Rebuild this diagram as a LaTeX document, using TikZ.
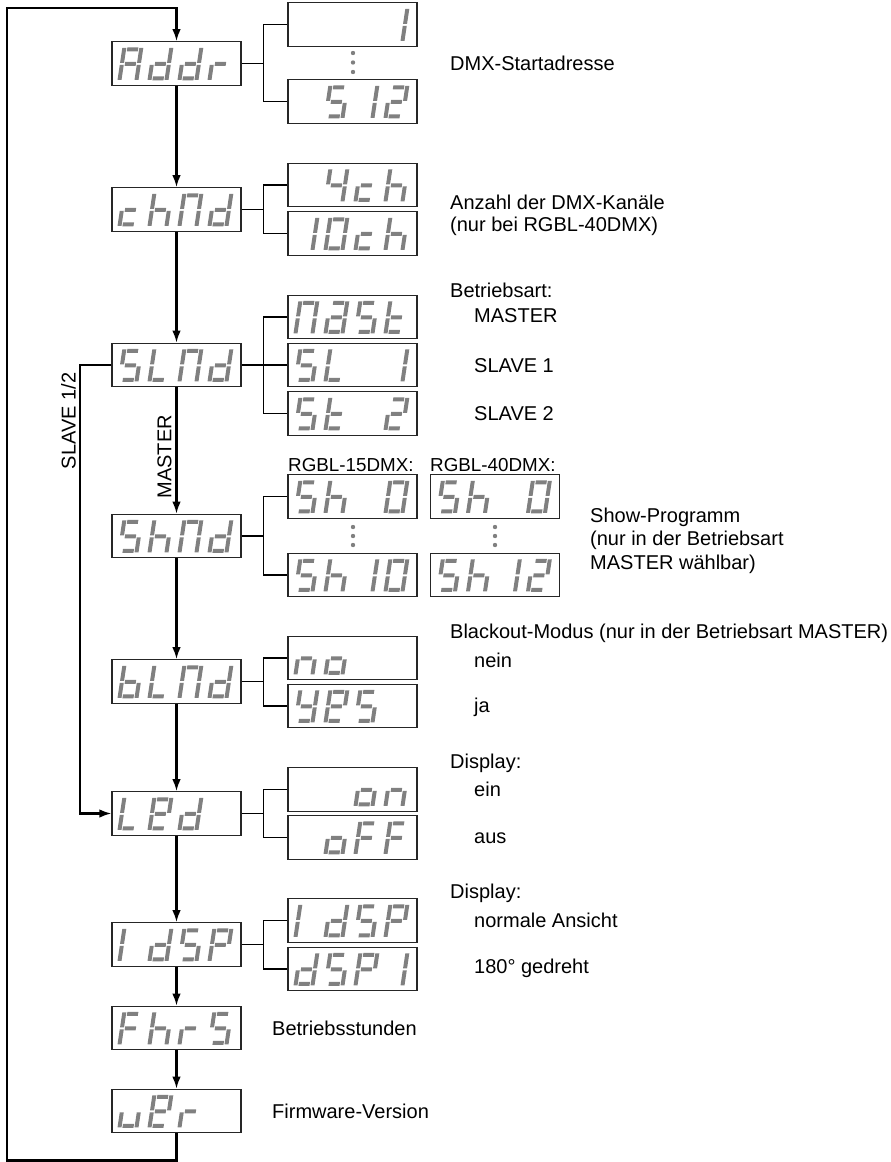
\documentclass[tikz,border=0pt]{standalone}
\usepackage{fontspec}
\setmainfont{Liberation Sans}
\usetikzlibrary{calc,arrows.meta}

\tikzset{
  disp/.style={draw=black!85, line width=1.1pt, minimum width=129pt, minimum height=43.5pt, inner sep=0pt},
  lbl/.style={anchor=west, inner sep=0pt, font=\fontsize{20}{22}\selectfont},
  lblsm/.style={anchor=west, inner sep=0pt, font=\fontsize{18.8}{22}\selectfont},
  conn/.style={line width=1.8pt},
  flow/.style={line width=2.1pt, -{Latex[length=12pt,width=8.5pt]}},
  seg/.style={fill=black!50},
  dotc/.style={fill=black!50},
}

% segments (unslanted cell 21 x 33)
\def\sga{\fill[seg] (5,29) rectangle (16,33);}
\def\sgg{\fill[seg] (5,14.5) rectangle (16,18.5);}
\def\sgd{\fill[seg] (5,0) rectangle (16,4);}
\def\sgf{\fill[seg] (0,17.5) rectangle (4,32.5);}
\def\sgb{\fill[seg] (17,17.5) rectangle (21,32.5);}
\def\sge{\fill[seg] (0,0.5) rectangle (4,15.5);}
\def\sgc{\fill[seg] (17,0.5) rectangle (21,15.5);}

% characters
\def\zA{a,b,c,e,f,g}
\def\zd{b,c,d,e,g}
\def\zr{e,g}
\def\zc{d,e,g}
\def\zh{c,e,f,g}
\def\zN{a,b,c,e,f}
\def\zfour{b,c,f,g}
\def\zone{b,c}
\def\zonel{e,f}
\def\zzero{a,b,c,d,e,f}
\def\zS{a,c,d,f,g}
\def\ztwo{a,b,d,e,g}
\def\zL{d,e,f}
\def\zt{d,e,f,g}
\def\zb{c,d,e,f,g}
\def\zn{c,e,g}
\def\zo{c,d,e,g}
\def\zy{b,c,d,f,g}
\def\zE{a,b,d,e,f,g}
\def\zF{a,e,f,g}
\def\zP{a,b,e,f,g}
\def\zu{c,d,e}
\def\za{a,b,c,d,e,g}

\newcommand\dg[3]{%
  \begin{scope}[shift={(#1.south west)}, xshift={6+30*(#2-1)}, yshift=5.5, xslant=0.15]
    \foreach \s in #3 {\csname sg\s\endcsname}
  \end{scope}}

\begin{document}
\begin{tikzpicture}[x=1pt,y=1pt]
\useasboundingbox (0,0) rectangle (891,-1162);

% main column
\node[disp] (addr) at (176.5,-63.5) {};
\node[disp] (chnd) at (176.5,-209.5) {};
\node[disp] (slnd) at (176.5,-365) {};
\node[disp] (shnd) at (176.5,-536) {};
\node[disp] (blnd) at (176.5,-681.5) {};
\node[disp] (led)  at (176.5,-813.5) {};
\node[disp] (dsp)  at (176.5,-944.5) {};
\node[disp] (fhrs) at (176.5,-1028) {};
\node[disp] (uer)  at (176.5,-1111) {};

% sub boxes
\node[disp] (a1)    at (352.5,-24.5) {};
\node[disp] (a512)  at (352.5,-101.5) {};
\node[disp] (c4)    at (352.5,-185) {};
\node[disp] (c10)   at (352.5,-233.5) {};
\node[disp] (smast) at (352.5,-317) {};
\node[disp] (ssl1)  at (352.5,-365) {};
\node[disp] (sst2)  at (352.5,-413.5) {};
\node[disp] (sh0a)  at (352.5,-496.5) {};
\node[disp] (sh10)  at (352.5,-575) {};
\node[disp] (sh0b)  at (495,-496.5) {};
\node[disp] (sh12)  at (495,-575) {};
\node[disp] (bno)   at (352.5,-658) {};
\node[disp] (byes)  at (352.5,-706) {};
\node[disp] (lon)   at (352.5,-789.5) {};
\node[disp] (loff)  at (352.5,-837.5) {};
\node[disp] (d1)    at (352.5,-920.5) {};
\node[disp] (d2)    at (352.5,-969) {};

% display contents
\dg{addr}{1}{\zA}\dg{addr}{2}{\zd}\dg{addr}{3}{\zd}\dg{addr}{4}{\zr}
\dg{a1}{4}{\zone}
\dg{a512}{2}{\zS}\dg{a512}{3}{\zone}\dg{a512}{4}{\ztwo}
\dg{chnd}{1}{\zc}\dg{chnd}{2}{\zh}\dg{chnd}{3}{\zN}\dg{chnd}{4}{\zd}
\dg{c4}{2}{\zfour}\dg{c4}{3}{\zc}\dg{c4}{4}{\zh}
\dg{c10}{1}{\zone}\dg{c10}{2}{\zzero}\dg{c10}{3}{\zc}\dg{c10}{4}{\zh}
\dg{slnd}{1}{\zS}\dg{slnd}{2}{\zL}\dg{slnd}{3}{\zN}\dg{slnd}{4}{\zd}
\dg{smast}{1}{\zN}\dg{smast}{2}{\za}\dg{smast}{3}{\zS}\dg{smast}{4}{\zt}
\dg{ssl1}{1}{\zS}\dg{ssl1}{2}{\zL}\dg{ssl1}{4}{\zone}
\dg{sst2}{1}{\zS}\dg{sst2}{2}{\zt}\dg{sst2}{4}{\ztwo}
\dg{shnd}{1}{\zS}\dg{shnd}{2}{\zh}\dg{shnd}{3}{\zN}\dg{shnd}{4}{\zd}
\dg{sh0a}{1}{\zS}\dg{sh0a}{2}{\zh}\dg{sh0a}{4}{\zzero}
\dg{sh0b}{1}{\zS}\dg{sh0b}{2}{\zh}\dg{sh0b}{4}{\zzero}
\dg{sh10}{1}{\zS}\dg{sh10}{2}{\zh}\dg{sh10}{3}{\zone}\dg{sh10}{4}{\zzero}
\dg{sh12}{1}{\zS}\dg{sh12}{2}{\zh}\dg{sh12}{3}{\zone}\dg{sh12}{4}{\ztwo}
\dg{blnd}{1}{\zb}\dg{blnd}{2}{\zL}\dg{blnd}{3}{\zN}\dg{blnd}{4}{\zd}
\dg{bno}{1}{\zn}\dg{bno}{2}{\zo}
\dg{byes}{1}{\zy}\dg{byes}{2}{\zE}\dg{byes}{3}{\zS}
\dg{led}{1}{\zL}\dg{led}{2}{\zE}\dg{led}{3}{\zd}
\dg{lon}{3}{\zo}\dg{lon}{4}{\zn}
\dg{loff}{2}{\zo}\dg{loff}{3}{\zF}\dg{loff}{4}{\zF}
\dg{dsp}{1}{\zonel}\dg{dsp}{2}{\zd}\dg{dsp}{3}{\zS}\dg{dsp}{4}{\zP}
\dg{d1}{1}{\zonel}\dg{d1}{2}{\zd}\dg{d1}{3}{\zS}\dg{d1}{4}{\zP}
\dg{d2}{1}{\zd}\dg{d2}{2}{\zS}\dg{d2}{3}{\zP}\dg{d2}{4}{\zone}
\dg{fhrs}{1}{\zF}\dg{fhrs}{2}{\zh}\dg{fhrs}{3}{\zr}\dg{fhrs}{4}{\zS}
\dg{uer}{1}{\zu}\dg{uer}{2}{\zE}\dg{uer}{3}{\zr}

% dots
\foreach \yy in {-53,-62.5,-72} {\fill[dotc] (353,\yy) circle (2.2);}
\foreach \yy in {-527,-536,-545} {\fill[dotc] (353,\yy) circle (2.2); \fill[dotc] (495,\yy) circle (2.2);}

% brackets
\foreach \m/\t/\b in {addr/a1/a512, chnd/c4/c10, slnd/smast/sst2, shnd/sh0a/sh10, blnd/bno/byes, led/lon/loff, dsp/d1/d2} {
  \draw[conn] (\m.east) -- ($(\m.east -| \t.west)+(-24,0)$);
  \draw[conn] (\t.west) -- ++(-24,0) |- (\b.west);
}
\draw[conn] (ssl1.west) -- ++(-24,0);

% flow
\draw[flow] (addr) -- (chnd);
\draw[flow] (chnd) -- (slnd);
\draw[flow] (slnd) -- node[pos=0.55, rotate=90, font=\fontsize{20}{22}\selectfont, anchor=south, inner sep=4pt] (lmaster) {MASTER} (shnd);
\draw[flow] (shnd) -- (blnd);
\draw[flow] (blnd) -- (led);
\draw[flow] (led) -- (dsp);
\draw[flow] (dsp) -- (fhrs);
\draw[flow] (fhrs) -- (uer);
\coordinate (sl) at (80,-365);
\draw[flow] (slnd.west) -- (sl) |- (led.west);
\node[rotate=90, font=\fontsize{20}{22}\selectfont, anchor=south, inner sep=4pt] (lslave) at (80,-421) {SLAVE 1/2};
\coordinate (lbl) at (7,-1160.5);
\coordinate (ltl) at (7,-8);
\draw[flow] (uer.south) -- (uer.south |- lbl) -- (lbl) -- (ltl) -- (ltl -| addr.north) -- (addr.north);

% labels
\node[lbl] (t1) at (450,-63.5) {DMX-Startadresse};
\node[lbl] (t2) at (450,-202) {Anzahl der DMX-Kanäle};
\node[lbl] (t3) at (450,-226) {(nur bei RGBL-40DMX)};
\node[lbl] (t4) at (450,-290) {Betriebsart:};
\node[lbl] (t5) at (474,-316) {MASTER};
\node[lbl] (t6) at (474,-366) {SLAVE 1};
\node[lbl] (t7) at (474,-414) {SLAVE 2};
\node[lblsm] (t8) at (288,-465) {RGBL-15DMX:};
\node[lblsm] (t9) at (430,-465) {RGBL-40DMX:};
\node[lbl] (t10) at (590,-517) {Show-Programm};
\node[lbl] (t11) at (590,-540) {(nur in der Betriebsart};
\node[lbl] (t12) at (590,-564) {MASTER wählbar)};
\node[lbl] (t13) at (450,-633) {Blackout-Modus (nur in der Betriebsart MASTER)};
\node[lbl] (t14) at (474,-660) {nein};
\node[lbl] (t15) at (474,-707) {ja};
\node[lbl] (t16) at (450,-763) {Display:};
\node[lbl] (t17) at (474,-789) {ein};
\node[lbl] (t18) at (474,-838) {aus};
\node[lbl] (t19) at (450,-893) {Display:};
\node[lbl] (t20) at (474,-920) {normale Ansicht};
\node[lbl] (t21) at (474,-968) {180° gedreht};
\node[lbl] (t22) at (272,-1028) {Betriebsstunden};
\node[lbl] (t23) at (272,-1111) {Firmware-Version};
\end{tikzpicture}
\end{document}
